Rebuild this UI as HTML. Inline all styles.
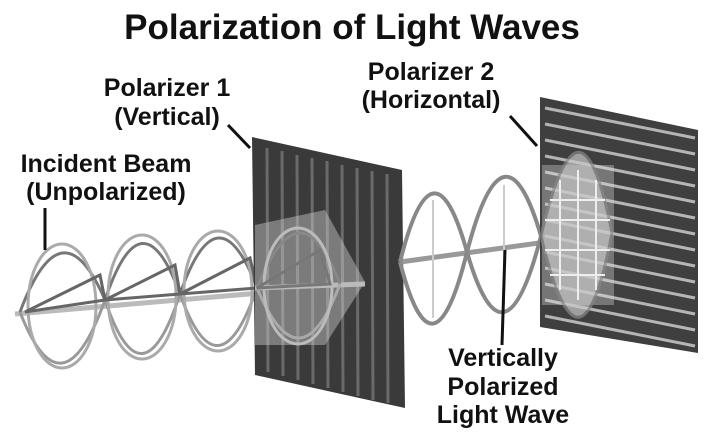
<!DOCTYPE html>
<html><head><meta charset="utf-8"><style>
html,body{margin:0;padding:0;background:#fff}
svg{display:block}
text{font-family:"Liberation Sans",sans-serif;font-weight:bold;fill:#111}
</style></head><body>
<svg width="715" height="440" viewBox="0 0 715 440">
<defs>
  <clipPath id="p2clip"><polygon points="540,97 698,130 698,353 540,327"/></clipPath>
</defs>
<text x="352" y="39" font-size="35" text-anchor="middle">Polarization of Light Waves</text>

<g fill="none" stroke-width="3">
  <line x1="15" y1="314" x2="365" y2="284" stroke="#bbb" stroke-width="5"/>
  <g stroke="#777">
    <path d="M20 312 Q62 200 105 300 Q142 190 180 294 Q218 185 257 288"/>
    <path d="M20 312 Q62 420 105 300 Q142 410 180 294 Q218 400 257 288" stroke="#999"/>
  </g>
  <g stroke="#aaa">
    <ellipse cx="62" cy="306" rx="34" ry="62"/>
    <ellipse cx="142" cy="297" rx="34" ry="62"/>
    <ellipse cx="218" cy="291" rx="34" ry="60"/>
  </g>
  <g stroke="#666">
    <path d="M25 312 L100 275 L105 300 Z"/>
    <path d="M105 300 L175 265 L180 294 Z"/>
    <path d="M180 294 L250 258 L257 288 Z"/>
  </g>
</g>

<polygon points="252,137 402,170 405,408 255,375" fill="#3a3a3a"/>
<g stroke="#6a6a6a" stroke-width="3">
  <line x1="267" y1="148" x2="268" y2="372"/><line x1="282" y1="151" x2="283" y2="376"/>
  <line x1="297" y1="155" x2="298" y2="380"/><line x1="312" y1="158" x2="313" y2="384"/>
  <line x1="327" y1="161" x2="328" y2="388"/><line x1="342" y1="165" x2="343" y2="392"/>
  <line x1="357" y1="168" x2="358" y2="396"/><line x1="372" y1="171" x2="373" y2="400"/>
  <line x1="387" y1="174" x2="388" y2="403"/>
</g>
<polygon points="255,225 325,210 365,282 325,345 255,345" fill="#ccc" opacity="0.45"/>
<g fill="none" stroke-width="3">
  <line x1="255" y1="288" x2="365" y2="284" stroke="#bbb" stroke-width="5"/>
  <path d="M257 288 Q300 180 340 284" stroke="#888"/>
  <path d="M257 288 Q300 390 340 284" stroke="#aaa"/>
  <ellipse cx="298" cy="286" rx="34" ry="58" stroke="#bbb"/>
  <path d="M257 288 L320 250 L330 284 Z" stroke="#777"/>
</g>

<line x1="400" y1="262" x2="612" y2="233" stroke="#999" stroke-width="5"/>
<g fill="none" stroke="#888" stroke-width="4">
  <path d="M400 262 Q433 130 467 252 Q504 110 541 236"/>
  <path d="M400 262 Q433 390 467 252 Q504 380 541 236"/>
  <line x1="433" y1="200" x2="433" y2="318" stroke="#ccc" stroke-width="2"/>
  <line x1="504" y1="185" x2="504" y2="305" stroke="#ccc" stroke-width="2"/>
</g>

<polygon points="540,97 698,130 698,353 540,327" fill="#3f3f3f"/>
<g stroke="#b5b5b5" stroke-width="3" clip-path="url(#p2clip)">
  <line x1="545" y1="108" x2="695" y2="138"/><line x1="545" y1="124" x2="695" y2="154"/>
  <line x1="545" y1="140" x2="695" y2="170"/><line x1="545" y1="156" x2="695" y2="186"/>
  <line x1="545" y1="172" x2="695" y2="202"/><line x1="545" y1="188" x2="695" y2="218"/>
  <line x1="545" y1="204" x2="695" y2="234"/><line x1="545" y1="220" x2="695" y2="250"/>
  <line x1="545" y1="236" x2="695" y2="266"/><line x1="545" y1="252" x2="695" y2="282"/>
  <line x1="545" y1="268" x2="695" y2="298"/><line x1="545" y1="284" x2="695" y2="314"/>
  <line x1="545" y1="300" x2="695" y2="330"/><line x1="545" y1="316" x2="695" y2="346"/>
</g>
<rect x="542" y="165" width="72" height="140" fill="#ddd" opacity="0.35"/>
<path d="M541 236 Q580 70 612 233 Q580 400 541 236" fill="#c8c8c8" opacity="0.7" stroke="#888" stroke-width="3"/>
<g stroke="#eee" stroke-width="2">
  <line x1="560" y1="180" x2="560" y2="290"/><line x1="578" y1="170" x2="578" y2="300"/><line x1="596" y1="180" x2="596" y2="290"/>
  <line x1="550" y1="200" x2="605" y2="200"/><line x1="545" y1="220" x2="610" y2="220"/><line x1="545" y1="250" x2="610" y2="250"/><line x1="550" y1="275" x2="605" y2="275"/>
</g>

<g font-size="25">
  <text x="167" y="96" text-anchor="middle">Polarizer 1</text>
  <text x="167" y="125" text-anchor="middle">(Vertical)</text>
  <line x1="228" y1="125" x2="250" y2="148" stroke="#111" stroke-width="3"/>
  <text x="431" y="80" text-anchor="middle">Polarizer 2</text>
  <text x="431" y="108" text-anchor="middle">(Horizontal)</text>
  <line x1="510" y1="116" x2="537" y2="146" stroke="#111" stroke-width="3"/>
  <text x="106" y="172" text-anchor="middle">Incident Beam</text>
  <text x="106" y="200" text-anchor="middle">(Unpolarized)</text>
  <line x1="45" y1="208" x2="45" y2="250" stroke="#111" stroke-width="3"/>
  <text x="503" y="366" text-anchor="middle">Vertically</text>
  <text x="503" y="395" text-anchor="middle">Polarized</text>
  <text x="503" y="423" text-anchor="middle">Light Wave</text>
  <line x1="502" y1="345" x2="505" y2="250" stroke="#111" stroke-width="3"/>
</g>
</svg>
</body></html>
